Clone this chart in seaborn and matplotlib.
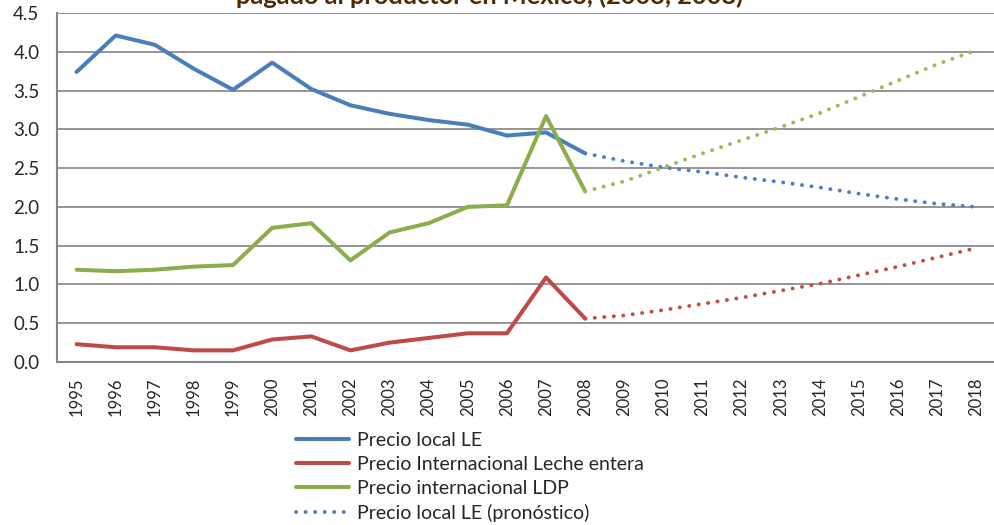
import numpy as np
import pandas as pd
import matplotlib
matplotlib.use("Agg")
import matplotlib.pyplot as plt
import seaborn as sns

# DATOS
anios = list(range(1995, 2019))
anios_hist = list(range(1995, 2009))
anios_pron = list(range(2008, 2019))

precio_local_le = [3.74, 4.21, 4.09, 3.78, 3.51, 3.86, 3.52, 3.31, 3.20, 3.12, 3.06, 2.92, 2.96, 2.69]
precio_int_le = [0.23, 0.19, 0.19, 0.15, 0.15, 0.29, 0.33, 0.15, 0.25, 0.31, 0.37, 0.37, 1.09, 0.56]
precio_int_ldp = [1.19, 1.17, 1.19, 1.23, 1.25, 1.73, 1.79, 1.31, 1.67, 1.79, 2.00, 2.02, 3.17, 2.20]

pron_local_le = [2.69, 2.59, 2.51, 2.45, 2.38, 2.32, 2.25, 2.17, 2.10, 2.04, 2.00]
pron_int_le = [0.56, 0.60, 0.67, 0.75, 0.83, 0.92, 1.01, 1.12, 1.23, 1.35, 1.47]
pron_int_ldp = [2.20, 2.33, 2.51, 2.69, 2.86, 3.03, 3.21, 3.42, 3.63, 3.84, 4.02]

etiquetas = ["Precio local LE", "Precio Internacional Leche entera",
             "Precio internacional LDP", "Precio local LE (pronóstico)"]

AZUL = "#4A7EBB"
ROJO = "#BE4B48"
VERDE = "#8CAD4B"
AZUL_P = "#4F81BD"
ROJO_P = "#C0504D"
VERDE_P = "#9BBB59"

sns.set_style("white")
plt.rcParams['font.family'] = ['Lato', 'DejaVu Sans']

fig = plt.figure(figsize=(9.94, 5.25), dpi=100)
ax = fig.add_axes([57 / 994, 1 - 362 / 525, 1 - 57 / 994 + 0.002, (362 - 13) / 525])

pos = {a: i for i, a in enumerate(anios)}
xh = [pos[a] for a in anios_hist]
xp = [pos[a] for a in anios_pron]

# puntos redondos del pronóstico
dot = (0, (0.05, 2.4))
sns.lineplot(x=xh, y=precio_local_le, ax=ax, color=AZUL, lw=2.9, label=etiquetas[0])
sns.lineplot(x=xh, y=precio_int_le, ax=ax, color=ROJO, lw=2.9, label=etiquetas[1])
sns.lineplot(x=xh, y=precio_int_ldp, ax=ax, color=VERDE, lw=2.9, label=etiquetas[2])
sns.lineplot(x=xp, y=pron_local_le, ax=ax, color=AZUL_P, lw=2.8, linestyle=dot,
             dash_capstyle='round', label=etiquetas[3])
sns.lineplot(x=xp, y=pron_int_le, ax=ax, color=ROJO_P, lw=2.8, linestyle=dot,
             dash_capstyle='round', legend=False)
sns.lineplot(x=xp, y=pron_int_ldp, ax=ax, color=VERDE_P, lw=2.8, linestyle=dot,
             dash_capstyle='round', legend=False)

ax.set_xlim(-0.5, len(anios) - 0.5)
ax.set_ylim(0, 4.5)
ax.set_yticks(np.arange(0, 4.51, 0.5))
ax.set_yticklabels([f"{v:.1f}" for v in np.arange(0, 4.51, 0.5)], fontsize=13.5)
ax.set_xticks(range(len(anios)))
ax.set_xticklabels([str(a) for a in anios], rotation=90, fontsize=12)
ax.set_xticks(np.arange(-0.5, len(anios), 1), minor=True)
ax.tick_params(axis='x', which='major', length=0, pad=11)
ax.tick_params(axis='x', which='minor', length=4, color="#868686", width=1.2, direction='out')
ax.tick_params(axis='y', length=3.6, color="#868686", width=1.2, direction='out', pad=9)
ax.grid(axis='y', color="#8C8C8C", lw=1.3)
ax.set_axisbelow(True)
for s in ['top', 'right']:
    ax.spines[s].set_visible(False)
for s in ['left', 'bottom']:
    ax.spines[s].set_color("#868686")
    ax.spines[s].set_linewidth(1.5)

leg = ax.legend(loc='upper left', bbox_to_anchor=(296 / 994, 1 - 432 / 525),
                bbox_transform=fig.transFigure, frameon=False, fontsize=14,
                handlelength=2.75, handletextpad=0.4, labelspacing=0.36,
                borderaxespad=0, borderpad=0)

fig.text(0.493, 1 - 3.5 / 525, "pagado al productor en México, (2003, 2008)",
         ha='center', va='baseline', fontsize=18.3, fontweight='bold', color="#4E2A07")

fig.savefig("out.png", dpi=100)
